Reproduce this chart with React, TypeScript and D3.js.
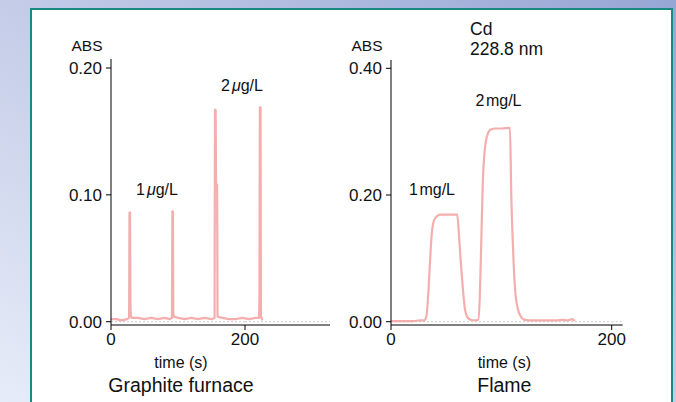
import React from "react";
import * as d3 from "d3";

const gfTime = [0, 8, 16, 24, 27, 27.6, 28.4, 29, 29.6, 31, 40, 50, 60, 70, 80, 88, 91, 91.6, 92.4, 93, 94, 100, 110, 120, 130, 140, 150, 154.6, 155.2, 156.2, 156.8, 158.4, 159, 166, 176, 186, 196, 206, 216, 221, 221.6, 222.2, 223.2, 223.8, 226];
const gfAbs = [0.002, 0.002, 0.001, 0.002, 0.003, 0.086, 0.086, 0.014, 0.005, 0.003, 0.003, 0.002, 0.003, 0.002, 0.003, 0.002, 0.003, 0.087, 0.087, 0.006, 0.004, 0.003, 0.002, 0.003, 0.002, 0.003, 0.002, 0.003, 0.167, 0.167, 0.108, 0.108, 0.004, 0.003, 0.002, 0.002, 0.003, 0.002, 0.003, 0.003, 0.022, 0.169, 0.169, 0.004, 0.001];

const flameTime = [0, 10, 20, 26, 30, 32, 34, 35.5, 37, 39, 42, 45, 52, 60, 61.5, 63, 65, 67, 69, 72, 76, 79, 80.5, 82, 83.2, 84.4, 86, 88, 90, 95, 100, 107.8, 109, 110.5, 112.5, 115, 117, 121, 130, 140, 150, 155, 160, 164, 166.5];
const flameAbs = [0.001, 0.001, 0.001, 0.002, 0.002, 0.008, 0.05, 0.1, 0.14, 0.16, 0.167, 0.169, 0.169, 0.169, 0.14, 0.1, 0.055, 0.02, 0.008, 0.003, 0.002, 0.003, 0.04, 0.14, 0.22, 0.26, 0.285, 0.298, 0.303, 0.305, 0.305, 0.306, 0.2, 0.12, 0.05, 0.02, 0.01, 0.003, 0.002, 0.002, 0.002, 0.003, 0.002, 0.004, 0.001];

const gfXTicks = [0, 200];
const gfYTicks = [0, 0.1, 0.2];
const flameXTicks = [0, 200];
const flameYTicks = [0, 0.2, 0.4];

const FONT = "'Liberation Sans', Arial, Helvetica, sans-serif";
const TRACE = "#f2a0a0";

type PanelProps = {
  times: number[];
  values: number[];
  xDomain: [number, number];
  xRange: [number, number];
  yDomain: [number, number];
  yRange: [number, number];
  yTop: number;
  xTicks: number[];
  yTicks: number[];
  curve: d3.CurveFactory;
  title: string;
};

function Panel(p: PanelProps) {
  const x = d3.scaleLinear().domain(p.xDomain).range(p.xRange);
  const y = d3.scaleLinear().domain(p.yDomain).range(p.yRange);
  const axisY = 325;
  const x0 = x(0);
  const xEnd = p.xRange[1];
  const pts = p.times.map((t, i) => [t, p.values[i]] as [number, number]);
  const line = d3
    .line<[number, number]>()
    .x((d) => x(d[0]))
    .y((d) => y(d[1]))
    .curve(p.curve);
  const cx = (x0 + xEnd) / 2 + 3;
  return (
    <g>
      <line x1={x0} x2={xEnd} y1={y(0)} y2={y(0)} stroke="#cfcfcf" strokeWidth={1} strokeDasharray="2,2" />
      <path d={line(pts) || ""} fill="none" stroke={TRACE} strokeWidth={2.2} strokeOpacity={0.85} strokeLinejoin="round" filter="url(#soft)" />
      <line x1={x0} x2={x0} y1={p.yTop} y2={axisY} stroke="#000" strokeWidth={1} />
      <line x1={x0} x2={xEnd} y1={axisY} y2={axisY} stroke="#000" strokeWidth={1} />
      {p.yTicks.map((t) => (
        <g key={"y" + t}>
          <line x1={x0 - 5} x2={x0} y1={y(t)} y2={y(t)} stroke="#000" strokeWidth={1} />
          <text x={x0 - 9} y={y(t) + 6} textAnchor="end" fontSize={17} fontFamily={FONT} fill="#111">
            {t.toFixed(2)}
          </text>
        </g>
      ))}
      {p.xTicks.map((t) => (
        <g key={"x" + t}>
          <line x1={x(t)} x2={x(t)} y1={axisY} y2={axisY + 5} stroke="#000" strokeWidth={1} />
          <text x={x(t)} y={345} textAnchor="middle" fontSize={17} fontFamily={FONT} fill="#111">
            {t}
          </text>
        </g>
      ))}
      <text x={x0 - 24} y={51} textAnchor="middle" fontSize={15.5} fontFamily={FONT} fill="#111">
        ABS
      </text>
      <text x={cx} y={368} textAnchor="middle" fontSize={16} fontFamily={FONT} fill="#111">
        time (s)
      </text>
      <text x={cx} y={392} textAnchor="middle" fontSize={19.5} fontFamily={FONT} fill="#111">
        {p.title}
      </text>
    </g>
  );
}

export default function App() {
  const W = 676;
  const H = 402;
  return (
    <svg width={W} height={H} style={{ position: "absolute", left: 0, top: 0 }}>
      <defs>
        <linearGradient id="bg" x1="0" y1="1" x2="1" y2="0">
          <stop offset="0" stopColor="#e6ecf8" />
          <stop offset="0.5" stopColor="#c4cce8" />
          <stop offset="1" stopColor="#96a6d4" />
        </linearGradient>
        <filter id="soft" x="-5%" y="-5%" width="110%" height="110%">
          <feGaussianBlur stdDeviation="0.4" />
        </filter>
      </defs>
      <rect x={0} y={0} width={W} height={H} fill="url(#bg)" />
      <rect x={31} y={9} width={641} height={420} fill="#fff" stroke="#1a8a80" strokeWidth={2} />

      <Panel
        times={gfTime}
        values={gfAbs}
        xDomain={[0, 200]}
        xRange={[111, 245]}
        yDomain={[0, 0.2]}
        yRange={[321.7, 68]}
        yTop={59}
        xTicks={gfXTicks}
        yTicks={gfYTicks}
        curve={d3.curveLinear}
        title="Graphite furnace"
      />
      <Panel
        times={flameTime}
        values={flameAbs}
        xDomain={[0, 200]}
        xRange={[391, 611.7]}
        yDomain={[0, 0.4]}
        yRange={[321.7, 68.3]}
        yTop={60}
        xTicks={flameXTicks}
        yTicks={flameYTicks}
        curve={d3.curveMonotoneX}
        title="Flame"
      />
      <line x1={245} x2={330} y1={325} y2={325} stroke="#000" strokeWidth={1} />
      <line x1={611.7} x2={622.7} y1={325} y2={325} stroke="#000" strokeWidth={1} />
      <line x1={245} x2={330} y1={321.7} y2={321.7} stroke="#cfcfcf" strokeWidth={1} strokeDasharray="2,2" />
      <line x1={611.7} x2={622.7} y1={321.7} y2={321.7} stroke="#cfcfcf" strokeWidth={1} strokeDasharray="2,2" />

      <g fontFamily={FONT} fill="#111" fontSize={16}>
        <text x={136} y={195}>
          1<tspan dx={2} fontStyle="italic">μ</tspan>g/L
        </text>
        <text x={221} y={91}>
          2<tspan dx={2} fontStyle="italic">μ</tspan>g/L
        </text>
        <text x={409} y={195}>
          1<tspan dx={1.5}>mg/L</tspan>
        </text>
        <text x={475.5} y={106}>
          2<tspan dx={1.5}>mg/L</tspan>
        </text>
        <text x={470} y={34.5} fontSize={17.5}>
          Cd
        </text>
        <text x={470} y={55} fontSize={17.5}>
          228.8 nm
        </text>
      </g>
    </svg>
  );
}
